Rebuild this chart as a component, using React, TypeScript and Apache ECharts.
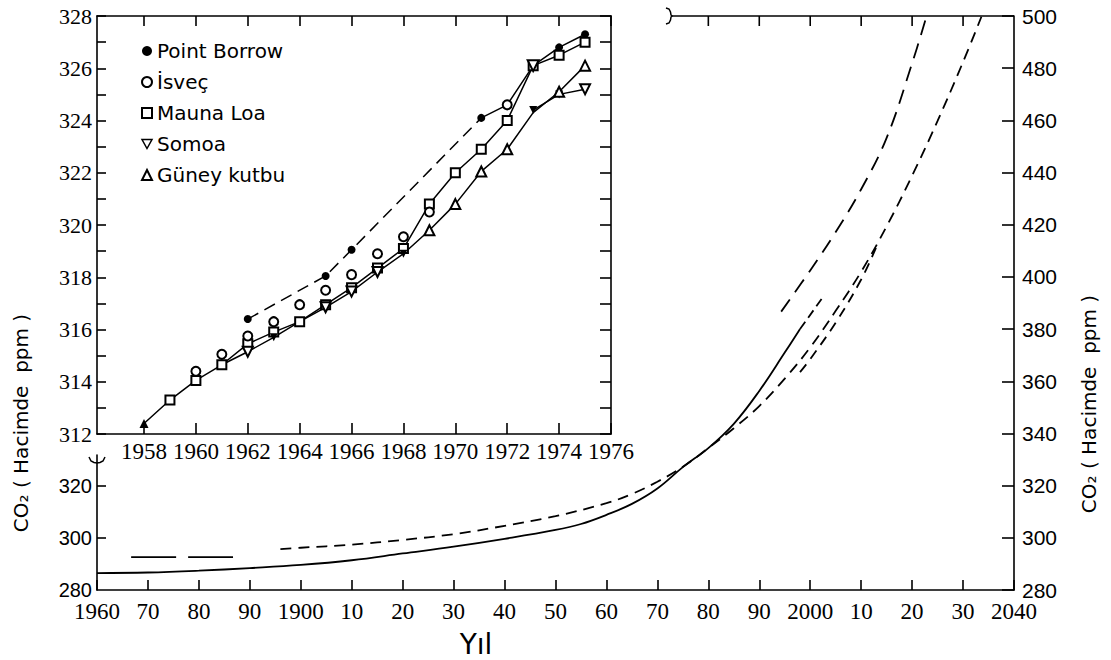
import React, { useEffect, useRef } from 'react';
import * as echarts from 'echarts';

// ---------- axis tick labels ----------
const mainXLabels = ['1960', '70', '80', '90', '1900', '10', '20', '30', '40', '50', '60', '70', '80', '90', '2000', '10', '20', '30', '2040'];
const insetXTicks = [1958, 1960, 1962, 1964, 1966, 1968, 1970, 1972, 1974, 1976];
const topTicks = [1980, 1990, 2000, 2010, 2020, 2030];
const lowLeftLabels = [280, 300, 320];
const lowLeftTicks = [300, 320];

// ---------- main chart (1860-2040) ----------
const solidYears = [1860, 1870, 1880, 1890, 1900, 1910, 1920, 1930, 1940, 1950, 1955, 1960, 1965, 1970, 1975, 1980, 1985, 1990, 1995, 1998];
const solidVals = [286.5, 286.7, 287.4, 288.4, 289.6, 291.4, 294.0, 296.6, 299.6, 303.0, 305.3, 308.8, 313.0, 318.9, 327.1, 334.4, 343.7, 356.3, 371.0, 380.0];

const solidContYears = [1998, 2002.8];
const solidContVals = [380.0, 393.1];

const lineBYears = [1896, 1900, 1910, 1920, 1930, 1940, 1950, 1960, 1965, 1970, 1975, 1980, 1985, 1990, 1995, 2000, 2005, 2010, 2015, 2020, 2025, 2030, 2033.6];
const lineBVals = [295.7, 296.2, 297.4, 299.2, 301.4, 304.6, 308.3, 313.3, 316.8, 321.5, 327.2, 334.4, 342.0, 350.5, 361.0, 373.0, 387.0, 402.0, 419.4, 438.8, 459.8, 482.4, 499.7];

const lineCYears = [1998, 2000, 2005, 2010, 2013];
const lineCVals = [363.5, 368.5, 382.5, 399.0, 411.6];

const lineAYears = [1994.3, 2000, 2005, 2010, 2015, 2020, 2022.8];
const lineAVals = [386.7, 402.5, 417.2, 433.6, 453.3, 481.9, 499.7];

const earlyYears = [1866.7, 1886.7];
const earlyVals = [292.6, 292.6];

// ---------- inset (1958-1976) ----------
const pbDashYears = [1962, 1965, 1966, 1971];
const pbDashVals = [316.4, 318.05, 319.05, 324.1];
const pbSolidYears = [1971, 1972, 1973, 1974, 1975];
const pbSolidVals = [324.1, 324.6, 326.1, 326.8, 327.3];
const pbSolidMarked = [1974, 1975];

const isvecYears = [1960, 1961, 1962, 1963, 1964, 1965, 1966, 1967, 1968, 1969, 1972];
const isvecVals = [314.4, 315.05, 315.75, 316.3, 316.95, 317.5, 318.1, 318.9, 319.55, 320.5, 324.6];

const maunaYears = [1958, 1959, 1960, 1961, 1962, 1963, 1964, 1965, 1966, 1967, 1968, 1969, 1970, 1971, 1972, 1973, 1974, 1975];
const maunaVals = [312.4, 313.3, 314.05, 314.65, 315.45, 315.9, 316.3, 316.95, 317.6, 318.35, 319.1, 320.8, 322.0, 322.9, 324.0, 326.1, 326.5, 327.0];
const maunaMarked = [1959, 1960, 1961, 1962, 1963, 1964, 1965, 1966, 1967, 1968, 1969, 1970, 1971, 1972, 1973, 1974, 1975];

const somoa1Years = [1961, 1962, 1963, 1964, 1965, 1966, 1967, 1968];
const somoa1Vals = [314.65, 315.15, 315.7, 316.3, 316.85, 317.45, 318.2, 318.9];
const somoa1Marked = [1962, 1965, 1966, 1967];
const somoa1Filled = [1963, 1968];

const somoa2Years = [1973, 1974, 1975];
const somoa2Vals = [324.4, 325.0, 325.2];
const somoa2Marked = [1975];
const somoa2Filled = [1973, 1974];

const somoaSingleYears = [1973];
const somoaSingleVals = [326.1];

const guneyStartYears = [1958];
const guneyStartVals = [312.4];
const guneyYears = [1968, 1969, 1970, 1971, 1972, 1973, 1974, 1975];
const guneyVals = [318.9, 319.8, 320.8, 322.05, 322.9, 324.3, 325.1, 326.1];
const guneyMarked = [1969, 1970, 1971, 1972, 1974, 1975];

const legendNames = ['Point Borrow', 'İsveç', 'Mauna Loa', 'Somoa', 'Güney kutbu'];

// ---------- helpers ----------
const pts = (xs: number[], ys: number[]) => xs.map((x, i) => [x, ys[i]]);
const markedPts = (xs: number[], ys: number[], marked: number[], filled: number[] = [], rot = 0) =>
  xs.map((x, i) => {
    if (filled.includes(x)) {
      return { value: [x, ys[i]], symbol: 'triangle', symbolRotate: rot, symbolSize: 8, itemStyle: { color: '#000' } };
    }
    return { value: [x, ys[i]], symbol: marked.includes(x) ? undefined : 'none' };
  });

// ---------- layout ----------
const MAIN = { left: 97, top: 16, right: 1014, bottom: 590 };
const INSET = { left: 97, top: 16, right: 611, bottom: 434 };
const topLineStartPx = 672;
const insetMin = 1958 - (144 - INSET.left) * (1976 - 1958) / (INSET.right - 144);
const ppmPerPx = (500 - 280) / (MAIN.bottom - MAIN.top);
const lowLeftTop = 455;
const lowLeftMax = 280 + (MAIN.bottom - lowLeftTop) * ppmPerPx;
const yearToPx = (y: number) => MAIN.left + (y - 1860) * (MAIN.right - MAIN.left) / (2040 - 1860);

const BLACK = '#000';
const narrow = 'Liberation Sans Narrow';
const axisLine = { show: true, onZero: false, lineStyle: { color: BLACK, width: 1.6 } };

export default function App() {
  const ref = useRef<HTMLDivElement>(null);
  useEffect(() => {
    const chart = echarts.init(ref.current!, null, { renderer: 'svg' });
    const lineBase = { type: 'line', symbol: 'none', animation: false, silent: true };
    const insetAx = { xAxisIndex: 1, yAxisIndex: 1 };
    const mainLine = (w: number, type: any) => ({ color: BLACK, width: w, type });
    const graphic: any[] = [
      // partial top edge of the main frame and its downward ticks
      {
        type: 'polyline', silent: true, z: 100,
        shape: { points: [[topLineStartPx, MAIN.top], [MAIN.right, MAIN.top]] },
        style: { stroke: BLACK, lineWidth: 1.6, fill: null },
      },
      ...topTicks.map((t) => ({
        type: 'polyline', silent: true, z: 100,
        shape: { points: [[yearToPx(t), MAIN.top], [yearToPx(t), MAIN.top + 10]] },
        style: { stroke: BLACK, lineWidth: 1.6, fill: null },
      })),
      // axis-break marks
      {
        type: 'polyline', silent: true, z: 100,
        shape: { points: [[666, 8], [669, 9], [670.5, 12], [671, 15], [672, 16], [671, 17], [670.5, 20], [669, 23], [666, 24]] },
        style: { stroke: BLACK, lineWidth: 1.5, fill: null },
      },
      {
        type: 'polyline', silent: true, z: 100,
        shape: { points: [[89, 457], [91, 461], [94, 462.5], [97, 463], [100, 462.5], [103, 461], [105, 457]] },
        style: { stroke: BLACK, lineWidth: 1.5, fill: null },
      },
      {
        type: 'text', x: 476, y: 644, silent: true,
        style: { text: 'Yıl', fontFamily: 'DejaVu Sans', fontSize: 28, fill: BLACK, textAlign: 'center', textVerticalAlign: 'middle' },
      },
      {
        type: 'text', x: 21, y: 423, rotation: Math.PI / 2, silent: true,
        style: { text: 'CO₂ ( Hacimde  ppm )', fontFamily: 'DejaVu Sans', fontSize: 20, fill: BLACK, textAlign: 'center', textVerticalAlign: 'middle' },
      },
      {
        type: 'text', x: 1089, y: 404, rotation: Math.PI / 2, silent: true,
        style: { text: 'CO₂ ( Hacimde  ppm )', fontFamily: 'DejaVu Sans', fontSize: 20, fill: BLACK, textAlign: 'center', textVerticalAlign: 'middle' },
      },
    ];
    const option: any = {
      animation: false,
      backgroundColor: '#fff',
      grid: [
        { left: MAIN.left, top: MAIN.top, width: MAIN.right - MAIN.left, height: MAIN.bottom - MAIN.top },
        { left: INSET.left, top: INSET.top, width: INSET.right - INSET.left, height: INSET.bottom - INSET.top },
        { left: MAIN.left, top: lowLeftTop, width: 100, height: MAIN.bottom - lowLeftTop },
      ],
      xAxis: [
        {
          gridIndex: 0, type: 'value', min: 1860, max: 2040, interval: 10, position: 'bottom',
          axisLine, splitLine: { show: false },
          axisTick: { show: true, inside: true, length: 10, lineStyle: { color: BLACK, width: 1.6 } },
          axisLabel: {
            color: BLACK, fontFamily: narrow, fontSize: 23, margin: 10,
            formatter: (v: number) => mainXLabels[Math.round((v - 1860) / 10)] ?? '',
          },
        },
        {
          gridIndex: 1, type: 'value', min: insetMin, max: 1976, position: 'bottom',
          axisLine, splitLine: { show: false },
          axisTick: { show: true, inside: true, length: 11, customValues: insetXTicks, lineStyle: { color: BLACK, width: 1.6 } },
          axisLabel: { color: BLACK, fontFamily: narrow, fontSize: 23, margin: 6, customValues: insetXTicks, formatter: (v: number) => String(v) },
        },
        {
          gridIndex: 1, type: 'value', min: insetMin, max: 1976, position: 'top',
          axisLine, splitLine: { show: false },
          axisTick: { show: true, inside: true, length: 10, customValues: insetXTicks, lineStyle: { color: BLACK, width: 1.6 } },
          axisLabel: { show: false },
        },
        { gridIndex: 2, type: 'value', min: 0, max: 1, show: false },
      ],
      yAxis: [
        {
          gridIndex: 0, type: 'value', min: 280, max: 500, interval: 20, position: 'right',
          axisLine, splitLine: { show: false },
          axisTick: { show: true, inside: true, length: 12, lineStyle: { color: BLACK, width: 1.6 } },
          axisLabel: { color: BLACK, fontFamily: 'Liberation Sans', fontSize: 21, margin: 8 },
        },
        {
          gridIndex: 1, type: 'value', min: 312, max: 328, interval: 1, position: 'left',
          axisLine, splitLine: { show: false },
          axisTick: { show: true, inside: true, length: 9, lineStyle: { color: BLACK, width: 1.6 } },
          axisLabel: {
            color: BLACK, fontFamily: narrow, fontSize: 22, margin: 5,
            formatter: (v: number) => (Math.round(v) % 2 === 0 ? String(v) : ''),
          },
        },
        {
          gridIndex: 1, type: 'value', min: 312, max: 328, interval: 1, position: 'right',
          axisLine, splitLine: { show: false },
          axisTick: { show: true, inside: true, length: 11, lineStyle: { color: BLACK, width: 1.6 } },
          axisLabel: { show: false },
        },
        {
          gridIndex: 2, type: 'value', min: 280, max: lowLeftMax, position: 'left',
          axisLine, splitLine: { show: false },
          axisTick: { show: true, inside: true, length: 9, customValues: lowLeftTicks, lineStyle: { color: BLACK, width: 1.6 } },
          axisLabel: { color: BLACK, fontFamily: 'Liberation Sans', fontSize: 20, margin: 5, customValues: lowLeftLabels },
        },
      ],
      legend: {
        orient: 'vertical', left: 136, top: 35, itemWidth: 10, itemHeight: 10, itemGap: 9,
        selectedMode: false,
        textStyle: { color: BLACK, fontFamily: 'DejaVu Sans', fontSize: 20, lineHeight: 22 },
        data: [
          { name: legendNames[0], icon: 'circle', itemStyle: { color: BLACK } },
          { name: legendNames[1], icon: 'emptyCircle', itemStyle: { color: BLACK } },
          { name: legendNames[2], icon: 'emptyRect', itemStyle: { color: BLACK } },
          {
            name: legendNames[3], icon: 'path://M0,0L10,0L5,9Z',
            itemStyle: { color: '#fff', borderColor: BLACK, borderWidth: 1.5 },
          },
          { name: legendNames[4], icon: 'emptyTriangle', itemStyle: { color: BLACK } },
        ],
      },
      series: [
        // ----- main chart curves -----
        { ...lineBase, name: 'solid', data: pts(solidYears, solidVals), smooth: 0.4, lineStyle: mainLine(1.8, 'solid') },
        { ...lineBase, name: 'solidCont', data: pts(solidContYears, solidContVals), lineStyle: mainLine(1.8, [9, 5]) },
        { ...lineBase, name: 'B', data: pts(lineBYears, lineBVals), smooth: 0.4, lineStyle: mainLine(1.8, [11, 7]) },
        { ...lineBase, name: 'C', data: pts(lineCYears, lineCVals), smooth: 0.4, lineStyle: mainLine(1.8, [10, 7]) },
        { ...lineBase, name: 'A', data: pts(lineAYears, lineAVals), smooth: 0.4, lineStyle: mainLine(1.8, [15, 9]) },
        { ...lineBase, name: 'early', data: pts(earlyYears, earlyVals), lineStyle: mainLine(1.8, [45, 12]) },
        // ----- inset -----
        {
          ...lineBase, ...insetAx, name: legendNames[0], data: pts(pbDashYears, pbDashVals),
          symbol: 'circle', symbolSize: 8, itemStyle: { color: BLACK }, lineStyle: { color: BLACK, width: 1.5, type: [12, 7] }, z: 3,
        },
        {
          ...lineBase, ...insetAx, name: legendNames[0], data: markedPts(pbSolidYears, pbSolidVals, pbSolidMarked),
          symbol: 'circle', symbolSize: 8, itemStyle: { color: BLACK }, lineStyle: { color: BLACK, width: 1.5 }, z: 3,
        },
        {
          type: 'scatter', ...insetAx, name: legendNames[1], data: pts(isvecYears, isvecVals), silent: true,
          symbol: 'emptyCircle', symbolSize: 9, itemStyle: { color: BLACK, borderWidth: 1.5, opacity: 1 }, z: 4,
        },
        {
          ...lineBase, ...insetAx, name: legendNames[2], data: markedPts(maunaYears, maunaVals, maunaMarked),
          symbol: 'emptyRect', symbolSize: 9, itemStyle: { color: BLACK, borderWidth: 1.5 }, lineStyle: { color: BLACK, width: 1.5 }, z: 3,
        },
        {
          ...lineBase, ...insetAx, name: legendNames[3], data: markedPts(somoa1Years, somoa1Vals, somoa1Marked, somoa1Filled, 180),
          symbol: 'emptyTriangle', symbolRotate: 180, symbolSize: 10, itemStyle: { color: BLACK, borderWidth: 1.5 }, lineStyle: { color: BLACK, width: 1.5 }, z: 3,
        },
        {
          ...lineBase, ...insetAx, name: legendNames[3], data: markedPts(somoa2Years, somoa2Vals, somoa2Marked, somoa2Filled, 180),
          symbol: 'emptyTriangle', symbolRotate: 180, symbolSize: 10, itemStyle: { color: BLACK, borderWidth: 1.5 }, lineStyle: { color: BLACK, width: 1.5 }, z: 3,
        },
        {
          type: 'scatter', ...insetAx, name: legendNames[3], data: pts(somoaSingleYears, somoaSingleVals), silent: true,
          symbol: 'emptyTriangle', symbolRotate: 180, symbolSize: 11, itemStyle: { color: BLACK, borderWidth: 1.5, opacity: 1 }, z: 4,
        },
        {
          type: 'scatter', ...insetAx, name: legendNames[4], data: pts(guneyStartYears, guneyStartVals), silent: true,
          symbol: 'triangle', symbolSize: 9, itemStyle: { color: BLACK, opacity: 1 }, z: 4,
        },
        {
          ...lineBase, ...insetAx, name: legendNames[4], data: markedPts(guneyYears, guneyVals, guneyMarked),
          symbol: 'emptyTriangle', symbolSize: 10, itemStyle: { color: BLACK, borderWidth: 1.5 }, lineStyle: { color: BLACK, width: 1.5 }, z: 3,
        },
      ],
      graphic,
    };
    chart.setOption(option);
    return () => chart.dispose();
  }, []);
  return <div ref={ref} style={{ position: 'fixed', left: 0, top: 0, width: 1111, height: 660, background: '#fff' }} />;
}
